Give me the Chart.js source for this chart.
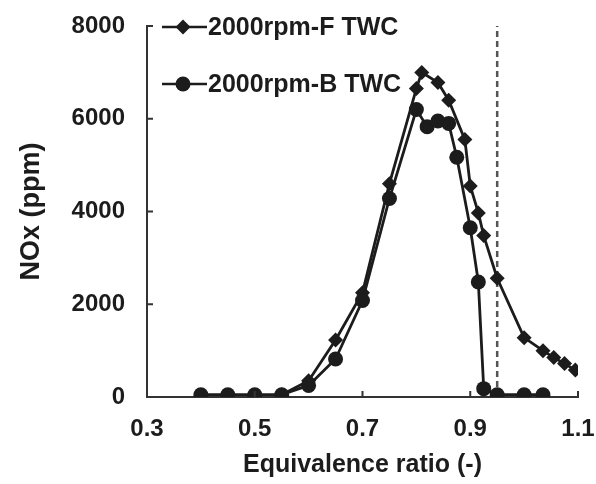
<!DOCTYPE html>
<html>
<head>
<meta charset="utf-8">
<script src="https://cdn.jsdelivr.net/npm/chart.js@4.4.1/dist/chart.umd.min.js"></script>
<style>
  html, body { margin: 0; padding: 0; background: #fff; }
  #wrap { width: 596px; height: 484px; }
</style>
</head>
<body>
<div id="wrap"><canvas id="myChart" width="596" height="484"></canvas></div>
<script>
'use strict';

// front TWC (diamonds)
const phiF = [0.55, 0.60, 0.65, 0.70, 0.75, 0.80, 0.81, 0.84, 0.86, 0.89, 0.90, 0.915, 0.925, 0.95, 1.00, 1.035, 1.055, 1.075, 1.095];
const noxF = [50, 350, 1230, 2250, 4600, 6650, 7000, 6780, 6400, 5550, 4550, 3970, 3480, 2560, 1280, 1000, 850, 720, 580];

// back TWC (circles)
const phiB = [0.40, 0.45, 0.50, 0.55, 0.60, 0.65, 0.70, 0.75, 0.80, 0.82, 0.84, 0.86, 0.875, 0.90, 0.915, 0.925, 0.95, 1.00, 1.035];
const noxB = [50, 50, 50, 50, 250, 820, 2080, 4280, 6200, 5830, 5950, 5900, 5170, 3650, 2480, 180, 50, 50, 50];

const seriesLabels = ['2000rpm-F TWC', '2000rpm-B TWC'];
const stoichPhi = 0.95;
const yRange = [0, 8000];

const xTitle = 'Equivalence ratio (-)';
const yTitle = 'NOx (ppm)';

const ink = '#1c1c1c';
const fontFamily = '"Liberation Sans", Arial, sans-serif';

function toPoints(xs, ys) {
  return xs.map((x, i) => ({ x, y: ys[i] }));
}

// inward tick marks on both axes
const inwardTicks = {
  id: 'inwardTicks',
  afterDraw(chart) {
    const { ctx, chartArea } = chart;
    const xs = chart.scales.x;
    const ys = chart.scales.y;
    ctx.save();
    ctx.strokeStyle = '#333';
    ctx.lineWidth = 2;
    ctx.beginPath();
    xs.ticks.forEach((t) => {
      const px = xs.getPixelForValue(t.value);
      ctx.moveTo(px, chartArea.bottom);
      ctx.lineTo(px, chartArea.bottom - 6);
    });
    ys.ticks.forEach((t) => {
      const py = ys.getPixelForValue(t.value);
      ctx.moveTo(chartArea.left, py);
      ctx.lineTo(chartArea.left + 6, py);
    });
    ctx.stroke();
    ctx.restore();
  },
};

// legend drawn inside the plot, top left
const insideLegend = {
  id: 'insideLegend',
  afterDraw(chart) {
    const { ctx } = chart;
    const rows = [
      { ds: 1, y: 27 },
      { ds: 0, y: 84 },
    ];
    ctx.save();
    rows.forEach((r) => {
      const ds = chart.data.datasets[r.ds];
      ctx.strokeStyle = ink;
      ctx.fillStyle = ink;
      ctx.lineWidth = 2.5;
      ctx.beginPath();
      ctx.moveTo(162, r.y);
      ctx.lineTo(207, r.y);
      ctx.stroke();
      const cx = 183;
      const rad = ds.pointRadius;
      ctx.beginPath();
      if (ds.pointStyle === 'rectRot') {
        ctx.moveTo(cx, r.y - rad);
        ctx.lineTo(cx + rad, r.y);
        ctx.lineTo(cx, r.y + rad);
        ctx.lineTo(cx - rad, r.y);
        ctx.closePath();
      } else {
        ctx.arc(cx, r.y, rad, 0, Math.PI * 2);
      }
      ctx.fill();
      ctx.font = 'bold 25px ' + fontFamily;
      ctx.textBaseline = 'middle';
      ctx.textAlign = 'left';
      ctx.fillText(ds.label, 208, r.y + 1);
    });
    ctx.restore();
  },
};

const data = {
  datasets: [
    {
      label: seriesLabels[1],
      data: toPoints(phiB, noxB),
      borderColor: ink,
      backgroundColor: ink,
      borderWidth: 2.8,
      pointStyle: 'circle',
      pointRadius: 7.5,
      pointHoverRadius: 7.5,
      pointBorderWidth: 0,
      tension: 0,
    },
    {
      label: seriesLabels[0],
      data: toPoints(phiF, noxF),
      borderColor: ink,
      backgroundColor: ink,
      borderWidth: 2.8,
      pointStyle: 'rectRot',
      pointRadius: 7.5,
      pointHoverRadius: 7.5,
      pointBorderWidth: 0,
      tension: 0,
    },
    {
      label: 'stoich',
      data: [{ x: stoichPhi, y: yRange[0] }, { x: stoichPhi, y: yRange[1] }],
      borderColor: '#555',
      borderWidth: 2.5,
      borderDash: [6, 4],
      pointRadius: 0,
      pointHoverRadius: 0,
    },
  ],
};

const config = {
  type: 'line',
  data,
  options: {
    responsive: false,
    animation: false,
    events: [],
    layout: { padding: 0 },
    plugins: {
      legend: { display: false },
      tooltip: { enabled: false },
    },
    scales: {
      x: {
        type: 'linear',
        min: 0.3,
        max: 1.1,
        grid: { display: false, drawTicks: false },
        border: { display: true, color: '#333', width: 2 },
        ticks: {
          stepSize: 0.2,
          padding: 18,
          color: ink,
          font: { family: fontFamily, size: 24, weight: 'bold' },
          callback: (v) => v.toFixed(1),
          maxRotation: 0,
        },
        title: {
          display: true,
          text: xTitle,
          color: ink,
          font: { family: fontFamily, size: 25, weight: 'bold' },
          padding: { top: 0, bottom: 4 },
        },
        afterFit(scale) {
          scale.height = 87;
          scale.paddingRight = 18;
          scale.paddingLeft = 0;
        },
      },
      y: {
        min: yRange[0],
        max: yRange[1],
        grid: { display: false, drawTicks: false },
        border: { display: true, color: '#333', width: 2 },
        ticks: {
          stepSize: 2000,
          padding: 22,
          color: ink,
          font: { family: fontFamily, size: 24, weight: 'bold' },
          callback: (v) => String(v),
        },
        title: {
          display: true,
          text: yTitle,
          color: ink,
          font: { family: fontFamily, size: 27, weight: 'bold' },
          padding: { top: 15, bottom: 0 },
        },
        afterFit(scale) {
          scale.width = 147;
          scale.paddingTop = 26;
          scale.paddingBottom = 0;
        },
      },
    },
  },
  plugins: [inwardTicks, insideLegend],
};

const myChart = new Chart(document.getElementById('myChart'), config);
</script>
</body>
</html>
